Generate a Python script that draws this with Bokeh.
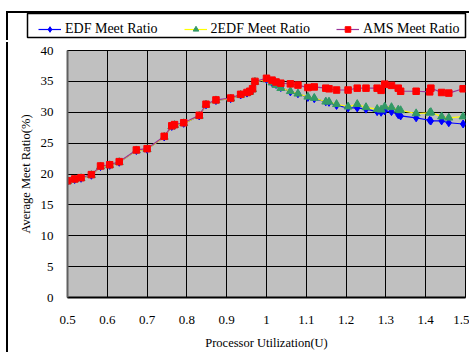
from bokeh.plotting import figure
from bokeh.models import ColumnDataSource, Legend, LegendItem, FixedTicker
from bokeh.embed import file_html
from bokeh.resources import INLINE

# ---- data ----
util = [0.500, 0.518, 0.534, 0.560, 0.583, 0.606, 0.630, 0.673, 0.700, 0.743,
        0.762, 0.769, 0.792, 0.831, 0.848, 0.873, 0.910, 0.935, 0.951, 0.958,
        0.965, 0.971, 1.000, 1.014, 1.024, 1.036, 1.060, 1.079, 1.104, 1.120,
        1.149, 1.157, 1.176, 1.205, 1.228, 1.250, 1.278, 1.288, 1.297, 1.314,
        1.331, 1.337, 1.376, 1.410, 1.413, 1.440, 1.458, 1.494]

edf = [18.8, 19.1, 19.3, 19.8, 21.2, 21.4, 21.9, 23.8, 24.0, 26.0,
       27.7, 27.9, 28.2, 29.4, 31.2, 31.9, 32.2, 32.8, 33.1, 33.3,
       33.7, 34.9, 35.3, 34.8, 34.5, 34.0, 33.3, 33.0, 32.4, 32.2,
       31.7, 31.6, 31.1, 30.7, 30.7, 30.5, 30.1, 30.0, 30.2, 30.1,
       29.6, 29.4, 29.1, 28.7, 28.6, 28.6, 28.3, 28.1]

edf2 = [18.8, 19.1, 19.3, 19.8, 21.2, 21.4, 21.9, 23.8, 24.0, 26.0,
        27.7, 27.9, 28.2, 29.4, 31.2, 31.9, 32.2, 32.8, 33.1, 33.3,
        33.7, 34.9, 35.3, 34.8, 34.4, 33.9, 33.4, 33.0, 32.5, 32.3,
        31.7, 31.7, 31.3, 30.9, 31.3, 30.8, 30.5, 30.4, 30.9, 30.8,
        30.4, 30.3, 29.8, 29.9, 30.0, 29.3, 29.1, 29.3]

ams = [18.9, 19.2, 19.4, 19.9, 21.3, 21.5, 22.0, 23.9, 24.1, 26.1,
       27.8, 28.0, 28.3, 29.5, 31.3, 32.0, 32.3, 32.9, 33.2, 33.4,
       33.8, 35.0, 35.5, 35.2, 34.9, 34.7, 34.6, 34.4, 34.0, 34.1,
       33.9, 33.8, 33.6, 33.6, 33.9, 33.9, 33.9, 33.55, 34.55, 34.35,
       33.9, 33.4, 33.4, 33.3, 33.9, 33.2, 33.1, 33.8]

x_ticks = [0.5, 0.6, 0.7, 0.8, 0.9, 1.0, 1.1, 1.2, 1.3, 1.4, 1.5]
x_tick_labels = ["0.5", "0.6", "0.7", "0.8", "0.9", "1", "1.1", "1.2", "1.3", "1.4", "1.5"]
y_ticks = [0, 5, 10, 15, 20, 25, 30, 35, 40]

series_names = ["EDF Meet Ratio", "2EDF Meet Ratio", "AMS Meet Ratio"]

FONT = "Liberation Serif"

src = ColumnDataSource(dict(x=util, edf=edf, edf2=edf2, ams=ams))

STYLES = [
    dict(y="edf", line="#0000FF", marker="diamond", size=8, mcolor="#0000FF"),
    dict(y="edf2", line="#FFFF00", marker="triangle", size=8, mcolor="#339966"),
    dict(y="ams", line="#993399", marker="square", size=6.5, mcolor="#FF0000"),
]


def add_series(fig):
    out = []
    for st in STYLES:
        lr = fig.line("x", st["y"], source=src, line_color=st["line"], line_width=1.2)
        mr = fig.scatter("x", st["y"], source=src, marker=st["marker"], size=st["size"],
                         fill_color=st["mcolor"], line_color=st["mcolor"])
        out.append((lr, mr))
    return out


# ---------------- legend strip (top) ----------------
lf = figure(width=463, height=29, output_backend="svg", toolbar_location=None,
            x_range=(0.5, 1.5), y_range=(100, 101),
            x_axis_type=None, y_axis_type=None,
            min_border_left=19, min_border_right=6, min_border_top=0,
            min_border_bottom=5)
lf.grid.visible = False
lf.background_fill_color = "white"
lf.border_fill_color = "white"
lf.outline_line_color = "black"
lf.outline_line_width = 1.5
lf.styles = {"margin-left": "6px", "margin-top": "11px",
             "border-left": "2px solid black", "border-top": "2px solid black"}

pairs = add_series(lf)

legend = Legend(items=[LegendItem(label=n, renderers=list(rr))
                       for n, rr in zip(series_names, pairs)],
                orientation="horizontal", location=(11, 0))
legend.label_text_font = FONT
legend.label_text_font_size = "14px"
legend.label_text_color = "black"
legend.glyph_width = 23
legend.glyph_height = 14
legend.label_standoff = 4
legend.spacing = 26
legend.padding = 4
legend.margin = 0
legend.border_line_color = None
legend.background_fill_alpha = 0
lf.add_layout(legend, "center")

# ---------------- main chart ----------------
p = figure(width=463, height=310, output_backend="svg", toolbar_location=None,
           x_range=(0.5, 1.5), y_range=(0, 40),
           min_border_left=59, min_border_right=6, min_border_top=8,
           min_border_bottom=52)
p.styles = {"margin-left": "6px", "margin-top": "2px",
            "border-left": "2px solid black"}

p.background_fill_color = "#C0C0C0"
p.border_fill_color = "white"
p.outline_line_color = "black"
p.outline_line_width = 1

p.xgrid.grid_line_color = "black"
p.ygrid.grid_line_color = "black"
p.xgrid.grid_line_width = 1
p.ygrid.grid_line_width = 1

p.xaxis.ticker = FixedTicker(ticks=x_ticks)
p.xaxis.major_label_overrides = {t: l for t, l in zip(x_ticks, x_tick_labels)}
p.yaxis.ticker = FixedTicker(ticks=y_ticks)
p.xgrid.ticker = FixedTicker(ticks=x_ticks)
p.ygrid.ticker = FixedTicker(ticks=y_ticks)

for ax in (p.xaxis[0], p.yaxis[0]):
    ax.major_tick_line_color = None
    ax.minor_tick_line_color = None
    ax.major_label_text_font = FONT
    ax.major_label_text_font_size = "13px"
    ax.major_label_text_color = "black"
    ax.axis_label_text_font = FONT
    ax.axis_label_text_font_size = "12.5px"
    ax.axis_label_text_font_style = "normal"
    ax.axis_label_text_color = "black"

p.yaxis.axis_line_color = "#606060"
p.yaxis.axis_line_width = 2
p.xaxis.axis_line_color = "black"
p.xaxis.axis_line_width = 2
p.xaxis.major_label_standoff = 12
p.yaxis.major_label_standoff = 8
p.xaxis.axis_label = "Processor Utilization(U)"
p.yaxis.axis_label = "Average Meet Ratio(%)"
p.xaxis.axis_label_standoff = 9
p.yaxis.axis_label_standoff = 5

add_series(p)

open("out.html", "w").write(file_html([lf, p], INLINE))
